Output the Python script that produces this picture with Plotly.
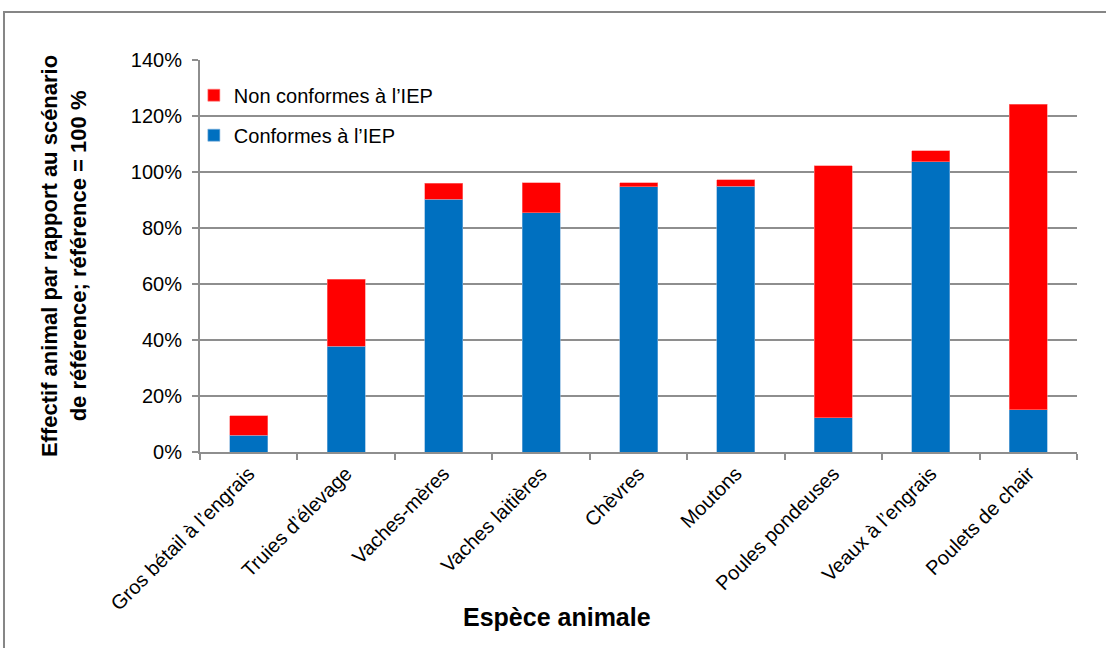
import plotly.graph_objects as go

categories = ["Gros bétail à l’engrais", "Truies d’élevage", "Vaches-mères", "Vaches laitières",
              "Chèvres", "Moutons", "Poules pondeuses", "Veaux à l’engrais", "Poulets de chair"]
conformes = [5.9, 37.7, 90.3, 85.5, 94.8, 94.9, 12.3, 103.7, 15.1]
non_conformes = [7.1, 24.0, 5.7, 10.7, 1.3, 2.3, 89.9, 3.9, 109.1]
y_ticks = [0, 20, 40, 60, 80, 100, 120, 140]

FONT = "Liberation Sans, Arial, sans-serif"
GRID = "#8e8e8e"

fig = go.Figure()
fig.add_trace(go.Bar(x=categories, y=conformes, name="Conformes à l’IEP",
                     marker=dict(color="#0070C0", line=dict(width=0.6, color="#7fb0dc")),
                     legendgroup="a", legendrank=2))
fig.add_trace(go.Bar(x=categories, y=non_conformes, name="Non conformes à l’IEP",
                     marker=dict(color="#FF0000", line=dict(width=0.6, color="#ff8080")),
                     legendgroup="b", legendrank=1))

fig.update_layout(
    width=1106, height=648,
    barmode="stack", bargap=0.61,
    paper_bgcolor="white", plot_bgcolor="white",
    margin=dict(l=200, r=29, t=60, b=196),
    font=dict(family=FONT, size=20, color="black"),
    showlegend=True,
    legend=dict(x=-0.007, y=0.96, xanchor="left", yanchor="top",
                traceorder="grouped", tracegroupgap=11,
                font=dict(size=20), bgcolor="rgba(0,0,0,0)", itemwidth=30),
    xaxis=dict(type="category", showline=True, linecolor=GRID, linewidth=2,
               ticks="outside", tickson="boundaries", ticklen=6, tickcolor=GRID, tickwidth=2,
               tickangle=-45, tickfont=dict(size=20), showgrid=False),
    yaxis=dict(range=[0, 140], tickvals=y_ticks, ticktext=[f"{v}%" for v in y_ticks],
               showline=True, linecolor=GRID, linewidth=2,
               ticks="outside", ticklen=6, tickcolor=GRID, tickwidth=2,
               showgrid=True, gridcolor=GRID, gridwidth=2, zeroline=False,
               tickfont=dict(size=20), ticklabelstandoff=6),
    annotations=[
        dict(text="<b>Effectif animal par rapport au scénario<br>de référence; référence = 100 %</b>",
             xref="paper", yref="paper", x=-0.155, y=0.5, xanchor="center", yanchor="middle",
             textangle=-90, showarrow=False, font=dict(size=22, family=FONT)),
        dict(text="<b>Espèce animale</b>", xref="paper", yref="paper",
             x=0.407, y=-0.421, xanchor="center", yanchor="middle",
             showarrow=False, font=dict(size=25, family=FONT)),
    ],
    shapes=[dict(type="rect", xref="paper", yref="paper",
                 x0=-0.2235, y0=-0.7, x1=1.1, y1=1.1224,
                 line=dict(color="#868686", width=2), fillcolor="rgba(0,0,0,0)", layer="below")],
)

fig.write_html("out.html", config={"displayModeBar": False},
               post_script="document.body.style.margin='0';")
